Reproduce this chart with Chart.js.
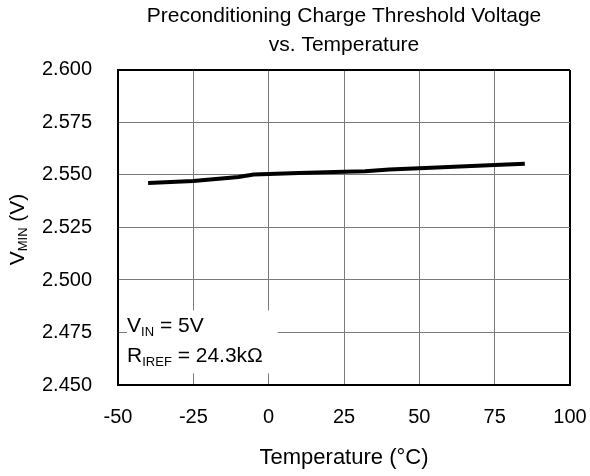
<!DOCTYPE html>
<html><head><meta charset="utf-8">
<script src="https://cdn.jsdelivr.net/npm/chart.js@4.4.1/dist/chart.umd.min.js"></script>
<style>html,body{margin:0;padding:0;background:#fff}#wrap{width:590px;height:476px}</style>
</head><body><div id="wrap"><canvas id="c" width="590" height="476"></canvas></div>
<script>
const titleLines = ['Preconditioning Charge Threshold Voltage', 'vs. Temperature'];
const xAxisTitle = 'Temperature (°C)';
const yAxisTitle = ['V', 'MIN', ' (V)'];
const noteLines = [['V', 'IN', ' = 5V'], ['R', 'IREF', ' = 24.3kΩ']];
const temperatures = [-40, -25, -10, -5, 0, 10, 25, 32, 40, 50, 75, 85];
const vmin = [2.5462, 2.5471, 2.5490, 2.5502, 2.5505, 2.5509, 2.5515, 2.5518, 2.5526, 2.5532, 2.5547, 2.5554];
const xTicks = [-50, -25, 0, 25, 50, 75, 100];
const yTicks = [2.450, 2.475, 2.500, 2.525, 2.550, 2.575, 2.600];

const FONT = '"Liberation Sans", Arial, sans-serif';

function subText(ctx, parts, x, y, size, subSize, subDrop) {
  ctx.font = size + 'px ' + FONT;
  ctx.fillText(parts[0], x, y);
  x += ctx.measureText(parts[0]).width;
  ctx.font = subSize + 'px ' + FONT;
  ctx.fillText(parts[1], x, y + subDrop);
  x += ctx.measureText(parts[1]).width;
  ctx.font = size + 'px ' + FONT;
  ctx.fillText(parts[2], x, y);
}
function partsWidth(ctx, parts, size, subSize) {
  ctx.font = size + 'px ' + FONT;
  let w = ctx.measureText(parts[0]).width + ctx.measureText(parts[2]).width;
  ctx.font = subSize + 'px ' + FONT;
  return w + ctx.measureText(parts[1]).width;
}

const extras = {
  id: 'extras',
  afterDraw(chart) {
    const ctx = chart.ctx;
    const xs = chart.scales.x, ys = chart.scales.y;
    ctx.save();
    ctx.fillStyle = '#000';
    ctx.textBaseline = 'alphabetic';
    // y-axis title (rotated, with subscript)
    ctx.save();
    ctx.translate(23.5, (ys.top + ys.bottom) / 2 + 2);
    ctx.rotate(-Math.PI / 2);
    const w = partsWidth(ctx, yAxisTitle, 21, 13);
    subText(ctx, yAxisTitle, -w / 2, 0, 21, 13, 3);
    ctx.restore();
    // note box
    const bx = xs.getPixelForValue(-47), bx2 = xs.getPixelForValue(3);
    const by = ys.getPixelForValue(2.4855), by2 = ys.getPixelForValue(2.4555);
    ctx.fillStyle = '#fff';
    ctx.fillRect(bx, by, bx2 - bx, by2 - by);
    ctx.fillStyle = '#000';
    subText(ctx, noteLines[0], bx, ys.getPixelForValue(2.475), 21, 13, 4);
    subText(ctx, noteLines[1], bx, ys.getPixelForValue(2.475) + 30, 21, 13, 4);
    ctx.restore();
  }
};

const edgeColor = (c, min, max) => (c.tick && (c.tick.value === min || c.tick.value === max)) ? '#000' : '#7a7a7a';
const edgeWidth = (c, min, max) => (c.tick && (c.tick.value === min || c.tick.value === max)) ? 2 : 1;

new Chart(document.getElementById('c'), {
  type: 'line',
  data: {
    datasets: [{
      data: temperatures.map((t, i) => ({ x: t, y: vmin[i] })),
      borderColor: '#000',
      borderWidth: 4,
      pointRadius: 0,
      tension: 0,
      fill: false
    }]
  },
  options: {
    responsive: false,
    animation: false,
    layout: { padding: { left: 0, right: 20, top: 0, bottom: 0 } },
    plugins: {
      legend: { display: false },
      tooltip: { enabled: false },
      title: {
        display: true,
        fullSize: false,
        text: titleLines,
        color: '#000',
        font: { family: FONT, size: 21, weight: 'normal', lineHeight: 1.38 },
        padding: { top: 2, bottom: 10 }
      }
    },
    scales: {
      x: {
        type: 'linear',
        min: xTicks[0], max: xTicks[xTicks.length - 1],
        afterBuildTicks: s => { s.ticks = xTicks.map(v => ({ value: v })); },
        afterFit: s => { s.height = 91; s.paddingRight = 0; s.paddingLeft = 0; },
        ticks: { color: '#000', font: { family: FONT, size: 20 }, padding: 20, maxRotation: 0, callback: v => String(v) },
        grid: { drawTicks: false, color: c => edgeColor(c, -50, 100), lineWidth: c => edgeWidth(c, -50, 100) },
        border: { display: true, color: '#000', width: 2 },
        title: { display: true, text: xAxisTitle, color: '#000', font: { family: FONT, size: 22, lineHeight: 1.2 }, padding: { top: 4, bottom: 5 } }
      },
      y: {
        type: 'linear',
        min: yTicks[0], max: yTicks[yTicks.length - 1],
        afterBuildTicks: s => { s.ticks = yTicks.map(v => ({ value: v })); },
        afterFit: s => { s.width = 118; },
        ticks: { color: '#000', font: { family: FONT, size: 20 }, padding: 26, callback: v => v.toFixed(3) },
        grid: { drawTicks: false, color: c => edgeColor(c, 2.45, 2.6), lineWidth: c => edgeWidth(c, 2.45, 2.6) },
        border: { display: true, color: '#000', width: 2 }
      }
    }
  },
  plugins: [extras]
});
</script>
</body></html>
